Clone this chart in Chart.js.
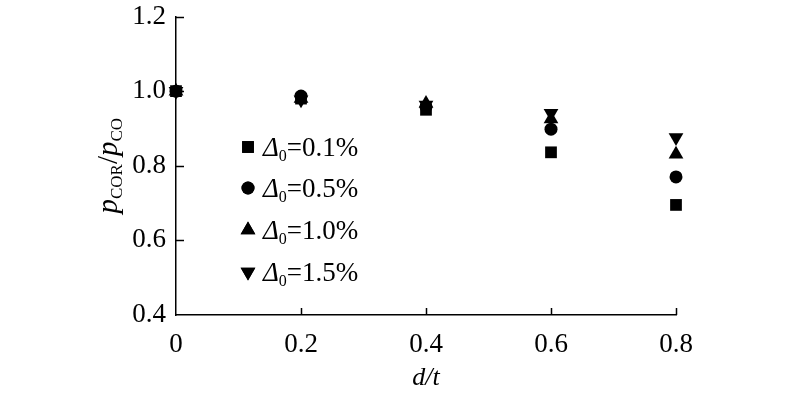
<!DOCTYPE html>
<html><head><meta charset="utf-8">
<script src="https://cdn.jsdelivr.net/npm/chart.js@4/dist/chart.umd.min.js"></script>
<style>html,body{margin:0;padding:0;background:#fff;}#wrap{position:relative;width:800px;height:395px;}</style>
</head><body><div id="wrap"><canvas id="c" width="800" height="395"></canvas></div>
<script>
// ---- data ----
const xValues = [0, 0.2, 0.4, 0.6, 0.8];
const seriesLabels = ['0.1%', '0.5%', '1.0%', '1.5%'];
const s01 = [1.0, 0.980, 0.950, 0.836, 0.695];
const s05 = [1.0, 0.987, 0.958, 0.898, 0.770];
const s10 = [1.0, 0.980, 0.967, 0.925, 0.831];
const s15 = [1.0, 0.977, 0.963, 0.941, 0.876];
const xTicks = [0, 0.2, 0.4, 0.6, 0.8];
const xTickLabels = ['0', '0.2', '0.4', '0.6', '0.8'];
const yTicks = [0.4, 0.6, 0.8, 1.0, 1.2];
const yTickLabels = ['0.4', '0.6', '0.8', '1.0', '1.2'];
const xTitle = 'd/t';

const FONT = '"Liberation Serif", "Times New Roman", serif';

const canvas = document.getElementById('c');

const styles = [
  { pointStyle: 'rect', radius: 8.3, rotation: 0 },
  { pointStyle: 'circle', radius: 6.5, rotation: 0 },
  { pointStyle: 'triangle', radius: 8.5, rotation: 0 },
  { pointStyle: 'triangle', radius: 8.5, rotation: 180 }
];
const seriesValues = [s01, s05, s10, s15];

const datasets = seriesValues.map((vals, i) => ({
  label: seriesLabels[i],
  data: xValues.map((x, j) => ({ x: x, y: vals[j] })),
  pointStyle: styles[i].pointStyle,
  pointRadius: styles[i].radius,
  pointRotation: styles[i].rotation,
  pointBackgroundColor: '#000',
  pointBorderColor: '#000',
  pointBorderWidth: 0,
  showLine: false,
  clip: false
}));

const decor = {
  id: 'decor',
  afterDraw(chart) {
    const c = chart.ctx;
    const xs = chart.scales.x, ys = chart.scales.y;
    const L = chart.chartArea.left, B = chart.chartArea.bottom;
    c.save();
    c.strokeStyle = '#000';
    c.lineWidth = 1.5;
    // inward ticks
    xTicks.forEach(v => {
      if (v === xs.min) return;
      const px = Math.round(xs.getPixelForValue(v)) + 0.5;
      c.beginPath(); c.moveTo(px, B); c.lineTo(px, B - 7); c.stroke();
    });
    yTicks.forEach(v => {
      if (v === ys.min) return;
      const py = Math.round(ys.getPixelForValue(v)) + 0.5;
      c.beginPath(); c.moveTo(L, py); c.lineTo(L + 8, py); c.stroke();
    });
    // legend
    const rowsY = [147, 188, 230, 272];
    const mx = 248, tx = 263;
    c.fillStyle = '#000';
    rowsY.forEach((ry, i) => {
      Chart.helpers.drawPoint(c, { pointStyle: styles[i].pointStyle, radius: styles[i].radius, rotation: styles[i].rotation, borderWidth: 0 }, mx, ry);
      c.fill();
      const base = ry + 9;
      c.textBaseline = 'alphabetic';
      c.textAlign = 'left';
      let x = tx;
      c.font = 'italic 27px ' + FONT;
      c.fillText('Δ', x, base); x += c.measureText('Δ').width;
      c.font = '16px ' + FONT;
      c.fillText('0', x, base + 5); x += c.measureText('0').width;
      c.font = '27px ' + FONT;
      c.fillText('=' + seriesLabels[i], x, base);
    });
    // y title p_COR / p_CO (rotated)
    const cy = (chart.chartArea.top + chart.chartArea.bottom) / 2;
    const parts = [
      { t: 'p', f: 'italic 29px ' + FONT, dy: 0 },
      { t: 'COR', f: '17px ' + FONT, dy: 5 },
      { t: '/', f: '29px ' + FONT, dy: 0 },
      { t: 'p', f: 'italic 29px ' + FONT, dy: 0 },
      { t: 'CO', f: '17px ' + FONT, dy: 5 }
    ];
    let total = 0;
    parts.forEach(p => { c.font = p.f; p.w = c.measureText(p.t).width; total += p.w; });
    c.save();
    c.translate(117, cy);
    c.rotate(-Math.PI / 2);
    let px = -total / 2;
    c.textAlign = 'left';
    c.textBaseline = 'alphabetic';
    parts.forEach(p => { c.font = p.f; c.fillText(p.t, px, p.dy); px += p.w; });
    c.restore();
    c.restore();
  }
};

new Chart(canvas, {
  type: 'scatter',
  data: { datasets: datasets },
  options: {
    responsive: false,
    animation: false,
    devicePixelRatio: 1,
    layout: { padding: { left: 0, right: 124, top: 16.5, bottom: 0 } },
    plugins: { legend: { display: false }, tooltip: { enabled: false } },
    scales: {
      x: {
        type: 'linear', min: 0, max: 0.8,
        afterBuildTicks: s => { s.ticks = xTicks.map(v => ({ value: v })); },
        afterFit: s => { s.height = 80; s.paddingLeft = 0; s.paddingRight = 0; },
        grid: { display: false, drawTicks: false },
        border: { display: true, color: '#000', width: 1.5 },
        ticks: { color: '#000', font: { family: FONT, size: 27 }, padding: 14, maxRotation: 0, autoSkip: false,
          callback: (v, i) => xTickLabels[i] },
        title: { display: true, text: xTitle, color: '#000', font: { family: FONT, size: 26, style: 'italic' }, padding: { top: 0, bottom: 1 } }
      },
      y: {
        type: 'linear', min: 0.4, max: 1.2,
        afterBuildTicks: s => { s.ticks = yTicks.map(v => ({ value: v })); },
        afterFit: s => { s.width = 176; s.paddingTop = 0; s.paddingBottom = 0; },
        grid: { display: false, drawTicks: false },
        border: { display: true, color: '#000', width: 1.5 },
        ticks: { color: '#000', font: { family: FONT, size: 27 }, padding: 10, autoSkip: false,
          callback: (v, i) => yTickLabels[i] }
      }
    }
  },
  plugins: [decor]
});
</script></body></html>
